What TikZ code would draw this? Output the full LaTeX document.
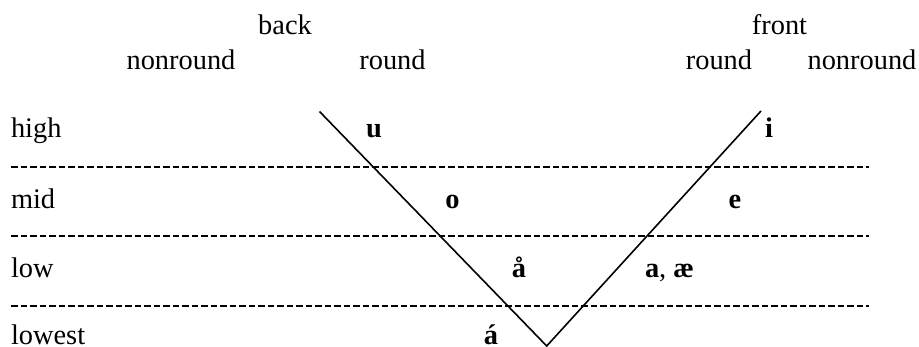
\documentclass[tikz,border=0pt]{standalone}
\usepackage{fontspec}
\setmainfont{Liberation Serif}
\usepackage{tikz}
\usetikzlibrary{positioning}

\begin{document}
\begin{tikzpicture}[
  x=0.5pt, y=-0.5pt,
  every node/.style={inner sep=0pt, outer sep=0pt, font=\fontsize{14.2}{17}\selectfont},
  head/.style={anchor=base},
  rowlabel/.style={anchor=base west},
  vowel/.style={anchor=base, font=\fontsize{14.2}{17}\selectfont\bfseries},
  sep/.style={line width=0.9pt, dash pattern=on 3.4pt off 1.35pt},
  vee/.style={line width=0.8pt}
]
  \useasboundingbox (0,0) rectangle (919,347);

  % column heads
  \node[head] (back) at (285,35) {back};
  \node[head] (front) at (779.5,35) {front};
  \node[head] (bnon) at (181,70) {nonround};
  \node[head] (bround) at (392.5,70) {round};
  \node[head] (fround) at (719,70) {round};
  \node[head] (fnon) at (862,70) {nonround};

  % height rows
  \node[rowlabel] (high) at (11,138) {high};
  \node[rowlabel] (mid) at (11,208) {mid};
  \node[rowlabel] (low) at (11,277) {low};
  \node[rowlabel] (lowest) at (11,344) {lowest};

  % separators between rows
  \foreach \y/\n in {167/a, 236/b, 306/c} {
    \coordinate (sep\n-l) at (11,\y);
    \coordinate (sep\n-r) at (869,\y);
    \draw[sep] (sep\n-l) -- (sep\n-r);
  }

  % the vowel V
  \coordinate (vback) at (319.5,111.5);
  \coordinate (vbottom) at (546.7,346);
  \coordinate (vfront) at (761,111);
  \draw[vee] (vback) -- (vbottom) -- (vfront);

  % vowels
  \node[vowel] (u) at (374,138) {u};
  \node[vowel] (i) at (769,138) {i};
  \node[vowel] (o) at (452.5,208) {o};
  \node[vowel] (e) at (735,208) {e};
  \node[vowel] (aring) at (519,277) {å};
  \node[vowel, anchor=base west] (ae) at (645,277) {a\textmd{,} æ};
  \node[vowel] (aacute) at (491,344) {á};
\end{tikzpicture}
\end{document}
